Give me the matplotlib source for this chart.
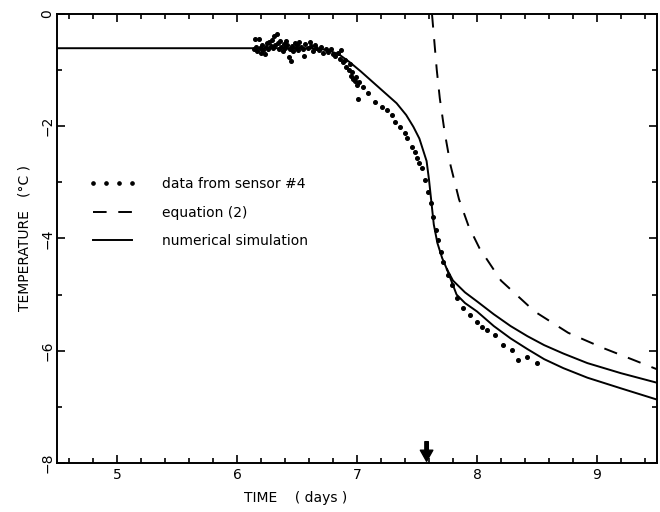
"""Temperature record at sensor #4 vs. equation (2) and the numerical simulation."""

import numpy as np
import matplotlib
matplotlib.use("Agg")
import matplotlib.pyplot as plt

# --- data (time in days, temperature in deg C) ---
sensor_time = [
    6.14, 6.15, 6.16, 6.17, 6.18, 6.19, 6.20, 6.21, 6.22, 6.23, 6.24, 6.25,
    6.26, 6.27, 6.28, 6.29, 6.30, 6.31, 6.32, 6.33, 6.34, 6.35, 6.36, 6.37,
    6.38, 6.39, 6.40, 6.41, 6.42, 6.43, 6.44, 6.45, 6.46, 6.47, 6.48, 6.49,
    6.50, 6.51, 6.52, 6.53, 6.55, 6.56, 6.57, 6.59, 6.61, 6.62, 6.63, 6.65,
    6.66, 6.68, 6.70, 6.72, 6.74, 6.76, 6.78, 6.80, 6.82, 6.84, 6.86, 6.87,
    6.88, 6.90, 6.91, 6.93, 6.94, 6.95, 6.96, 6.97, 6.98, 6.99, 7.00, 7.01,
    7.02, 7.05, 7.09, 7.15, 7.21, 7.25, 7.29, 7.32, 7.36, 7.40, 7.42, 7.46,
    7.48, 7.50, 7.52, 7.54, 7.57, 7.59, 7.62, 7.63, 7.66, 7.675, 7.70, 7.72,
    7.76, 7.79, 7.83, 7.88, 7.94, 8.00, 8.04, 8.08, 8.15, 8.22, 8.29, 8.34,
    8.42, 8.50,
]
sensor_temp = [
    -0.62, -0.45, -0.58, -0.66, -0.44, -0.60, -0.70, -0.55, -0.64, -0.72, -0.58, -0.52,
    -0.62, -0.50, -0.57, -0.47, -0.60, -0.40, -0.55, -0.36, -0.52, -0.63, -0.48, -0.58,
    -0.66, -0.53, -0.60, -0.49, -0.56, -0.77, -0.62, -0.84, -0.57, -0.66, -0.52, -0.60,
    -0.55, -0.65, -0.50, -0.58, -0.62, -0.75, -0.53, -0.60, -0.50, -0.57, -0.66, -0.55,
    -0.60, -0.64, -0.58, -0.70, -0.63, -0.67, -0.62, -0.72, -0.75, -0.70, -0.80, -0.64,
    -0.86, -0.82, -0.94, -1.00, -0.90, -1.10, -1.04, -1.16, -1.20, -1.12, -1.26, -1.52,
    -1.22, -1.30, -1.41, -1.57, -1.66, -1.71, -1.80, -1.93, -2.01, -2.12, -2.21, -2.37,
    -2.46, -2.57, -2.66, -2.75, -2.96, -3.17, -3.37, -3.62, -3.85, -4.03, -4.24, -4.42,
    -4.65, -4.83, -5.06, -5.24, -5.37, -5.49, -5.58, -5.63, -5.72, -5.90, -5.99, -6.17,
    -6.11, -6.22,
]

eq2_time = [7.625, 7.645, 7.665, 7.69, 7.73, 7.78, 7.85, 7.93, 8.02, 8.20,
            8.48, 8.76, 9.05, 9.30, 9.50]
eq2_temp = [0.0, -0.50, -1.00, -1.50, -2.10, -2.70, -3.30, -3.78, -4.17, -4.75,
            -5.30, -5.68, -5.95, -6.16, -6.33]

# two simulation runs: identical until ~7.75 days, then they separate
sim_time = [4.5, 6.6, 6.75, 6.85, 6.94, 7.03, 7.13, 7.23, 7.33, 7.41, 7.47,
            7.52, 7.55, 7.58, 7.60, 7.62, 7.64, 7.67, 7.71, 7.75]
sim_temp = [-0.61, -0.61, -0.64, -0.72, -0.86, -1.02, -1.21, -1.40, -1.59, -1.80,
            -2.01, -2.22, -2.42, -2.62, -2.95, -3.35, -3.75, -4.08, -4.35, -4.55]

sim_a_time = [7.75, 7.80, 7.90, 8.00, 8.14, 8.28, 8.42, 8.56, 8.72, 8.92, 9.20, 9.50]
sim_a_temp = [-4.55, -4.75, -4.96, -5.12, -5.35, -5.56, -5.74, -5.90, -6.05, -6.22, -6.40, -6.57]
sim_b_time = [7.75, 7.83, 7.90, 8.00, 8.14, 8.28, 8.42, 8.56, 8.72, 8.92, 9.20, 9.50]
sim_b_temp = [-4.55, -5.00, -5.15, -5.30, -5.56, -5.78, -5.97, -6.15, -6.31, -6.48, -6.67, -6.87]

arrow_time = 7.58

# --- figure ---
plt.rcParams["font.family"] = "DejaVu Sans"
plt.rcParams["path.simplify"] = False
fig = plt.figure(figsize=(6.6, 5.12), dpi=100)
ax = fig.add_axes([0.0864, 0.0957, 0.909, 0.877])

ax.plot(sensor_time, sensor_temp, linestyle="none", marker="o", ms=2.6,
        color="black", label="data from sensor #4")
ax.plot(eq2_time, eq2_temp, color="black", lw=1.4, linestyle=(0, (7, 6)),
        label="equation (2)")
ax.plot(sim_time, sim_temp, color="black", lw=1.4, label="numerical simulation")
ax.plot(sim_a_time, sim_a_temp, color="black", lw=1.4)
ax.plot(sim_b_time, sim_b_temp, color="black", lw=1.4)

# arrow on the time axis
ax.annotate("", xy=(arrow_time, -7.97), xytext=(arrow_time, -7.62),
            arrowprops=dict(facecolor="black", edgecolor="black", width=2.5,
                            headwidth=9, headlength=8, shrink=0))

ax.set_xlim(4.5, 9.5)
ax.set_ylim(-8, 0)
ax.set_xticks([5, 6, 7, 8, 9])
ax.set_xticks(np.arange(4.6, 9.5, 0.2), minor=True)
ax.set_yticks([0, -2, -4, -6, -8])
ax.set_yticks([-1, -3, -5, -7], minor=True)
ax.tick_params(which="both", direction="in", top=True, right=True,
               labelsize=10, width=1.2)
ax.tick_params(which="major", length=6)
ax.tick_params(which="minor", length=3.5)
ax.tick_params(axis="y", pad=2)
for lbl in ax.get_yticklabels():
    lbl.set_rotation(90)
    lbl.set_va("center")
for sp in ax.spines.values():
    sp.set_linewidth(1.4)

ax.set_xlabel("TIME    ( days )", fontsize=10)
ax.xaxis.set_label_coords(0.397, -0.062)
ax.set_ylabel("TEMPERATURE   (°C )", fontsize=10, labelpad=6)

ax.legend(loc="upper left", bbox_to_anchor=(0.053, 0.637), frameon=False,
          fontsize=10, numpoints=4, markerscale=0.9, handlelength=3.4,
          handletextpad=1.9, labelspacing=1.05, borderpad=0, borderaxespad=0)

fig.savefig("out.png", dpi=100)
plt.close(fig)
